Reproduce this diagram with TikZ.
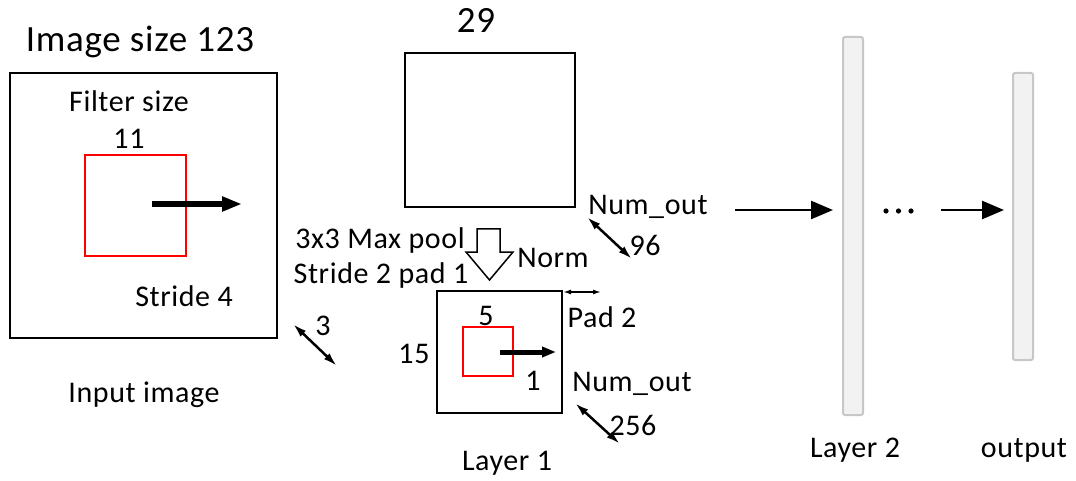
\documentclass[tikz,border=0pt]{standalone}
\usepackage{fontspec}
\setmainfont{Carlito}[LetterSpace=2]
\usetikzlibrary{arrows.meta}
\begin{document}
\begin{tikzpicture}[x=1pt,y=-1pt,
  box/.style={draw=black,line width=2pt,minimum width=#1,inner sep=0pt},
  redbox/.style={draw=red,line width=2pt,inner sep=0pt},
  bar/.style={draw=black!22,fill=black!5,line width=2pt,rounded corners=2pt,inner sep=0pt,minimum width=20pt},
  lbl/.style={font=\fontsize{30}{34}\selectfont,inner sep=0pt},
  biglbl/.style={font=\fontsize{37}{42}\selectfont,inner sep=0pt},
  thickarrow/.style={line width=6pt,-{Triangle[length=20pt,width=14pt]}},
  flowarrow/.style={line width=2.5pt,-{Triangle[length=22pt,width=18pt]}},
  dblarrow/.style={line width=2.5pt,{Latex[length=14pt,width=8pt]}-{Latex[length=14pt,width=8pt]}}]
\useasboundingbox (0,0) rectangle (1076,481);
% input image
\node[box=267pt,minimum height=265pt] (inbox) at (143.5,205.5) {};
\node[redbox,minimum width=101pt,minimum height=101pt] (infilter) at (135.5,205.5) {};
\coordinate (ia1) at (152,204);
\coordinate (ia2) at (242,204);
\draw[thickarrow] (ia1) -- (ia2);
\node[biglbl] (t123) at (140,42) {Image size 123};
\node[lbl] (tfs) at (129,101) {Filter size};
\node[lbl] (t11) at (129,139) {11};
\node[lbl] (ts4) at (184,296) {Stride 4};
\node[lbl] (tin) at (144,395) {Input image};
\node[lbl] (t3) at (323,326) {3};
\coordinate (d1a) at (293,324);
\coordinate (d1b) at (337,366);
\draw[dblarrow] (d1a) -- (d1b);
% 29 box
\node[box=170pt,minimum height=154pt] (b29) at (490,130) {};
\node[biglbl] (t29) at (476,20) {29};
\node[lbl] (tno1) at (648,207) {Num\_out};
\node[lbl] (t96) at (645,245) {96};
\coordinate (d2a) at (587,217);
\coordinate (d2b) at (632,259);
\draw[dblarrow] (d2a) -- (d2b);
% hollow arrow
\draw[line width=1.5pt,fill=white] (477,229) -- (500,229) -- (500,252) -- (513,252) -- (489.5,280) -- (466,252) -- (477,252) -- cycle;
\node[lbl] (tnorm) at (553,258) {Norm};
\node[lbl] (tmp) at (380,241) {3x3 Max pool};
\node[lbl] (tsp) at (381,276) {Stride 2 pad 1};
% layer 1
\node[box=125pt,minimum height=122pt] (l1box) at (499.5,352) {};
\node[redbox,minimum width=50pt,minimum height=49pt] (l1filter) at (488,351.5) {};
\coordinate (la1) at (500,352);
\coordinate (la2) at (556,352);
\draw[line width=5pt,-{Triangle[length=14pt,width=10pt]}] (la1) -- (la2);
\node[lbl] (t5) at (486,316) {5};
\node[lbl] (t15) at (414,354) {15};
\node[lbl] (t1) at (533,381) {1};
\coordinate (p2a) at (563,292);
\coordinate (p2b) at (601,292);
\draw[line width=1.5pt,{Latex[length=8pt,width=5pt]}-{Latex[length=8pt,width=5pt]}] (p2a) -- (p2b);
\node[lbl] (tpad) at (602,317) {Pad 2};
\node[lbl] (tno2) at (632,384) {Num\_out};
\node[lbl] (t256) at (633,425) {256};
\coordinate (d3a) at (575,403);
\coordinate (d3b) at (620,444);
\draw[dblarrow] (d3a) -- (d3b);
\node[lbl] (tl1) at (507,463) {Layer 1};
% layers
\node[bar,minimum height=378pt] (l2) at (853,226) {};
\node[bar,minimum height=287pt] (out) at (1023,216.5) {};
\coordinate (fa1) at (735,210);
\coordinate (fa2) at (833,210);
\draw[flowarrow] (fa1) -- (fa2);
\foreach \dx in {886,898.5,911} \fill (\dx,211) circle (2.6pt);
\coordinate (fb1) at (941,210);
\coordinate (fb2) at (1004,210);
\draw[flowarrow] (fb1) -- (fb2);
\node[lbl] (tl2) at (855,450) {Layer 2};
\node[lbl] (tout) at (1024,450) {output};
\end{tikzpicture}
\end{document}
